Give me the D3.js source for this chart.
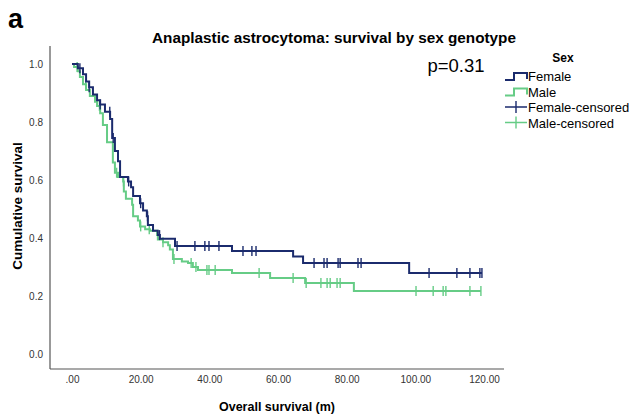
<!DOCTYPE html>
<html>
<head>
<meta charset="utf-8">
<script src="https://cdn.jsdelivr.net/npm/d3@7"></script>
<style>
  body { margin: 0; background: white; }
  text { font-family: "Liberation Sans", Arial, sans-serif; }
</style>
</head>
<body>
<div id="chart"></div>
<script>
// step points: time (months) and survival after the drop
const femaleTimes = [0, 1.7, 3.2, 4.1, 5.0, 6.1, 7.3, 8.2, 9.6, 11.1, 11.7, 12.5, 13.4, 14.0, 16.3, 17.2, 17.8, 19.8, 20.7, 21.8, 22.1, 23.6, 25.0, 25.6, 30.0, 46.6, 64.4, 67.3, 98.2]
const femaleSurv = [1.0, 0.985, 0.965, 0.94, 0.92, 0.895, 0.875, 0.86, 0.835, 0.81, 0.745, 0.70, 0.665, 0.61, 0.595, 0.575, 0.545, 0.52, 0.495, 0.475, 0.445, 0.425, 0.41, 0.397, 0.372, 0.355, 0.336, 0.314, 0.279]
const femaleCensored = [2.3, 5.0, 8.2, 11.0, 12.0, 16.5, 20.0, 22.0, 25.5, 30.6, 35.8, 38.7, 39.9, 42.8, 49.8, 52.4, 53.6, 70.5, 73.4, 74.3, 77.5, 78.1, 83.3, 84.2, 104.0, 112.1, 115.9, 118.8, 119.4]

const maleTimes = [0, 0.6, 1.7, 2.3, 3.2, 4.1, 5.2, 6.7, 7.3, 8.2, 9.0, 10.2, 11.9, 12.5, 13.4, 14.9, 15.1, 15.7, 17.5, 17.8, 19.2, 19.8, 21.3, 22.7, 24.8, 25.0, 26.5, 28.0, 28.5, 29.4, 32.0, 33.8, 35.2, 36.7, 46.6, 57.7, 67.9, 82.1]
const maleSurv = [1.0, 0.99, 0.975, 0.955, 0.93, 0.91, 0.89, 0.87, 0.855, 0.83, 0.79, 0.73, 0.66, 0.625, 0.61, 0.595, 0.56, 0.535, 0.515, 0.475, 0.46, 0.44, 0.43, 0.425, 0.41, 0.395, 0.385, 0.375, 0.36, 0.328, 0.319, 0.314, 0.300, 0.290, 0.279, 0.262, 0.245, 0.217]
const maleCensored = [1.5, 4.0, 8.0, 13.0, 15.0, 20.0, 22.5, 26.5, 29.7, 34.7, 36.1, 39.3, 39.9, 41.7, 54.5, 64.4, 68.2, 72.5, 74.3, 75.2, 77.2, 78.1, 100.2, 105.2, 108.1, 108.9, 115.9, 119.1]

const xTicks = [0, 20, 40, 60, 80, 100, 120]
const yTicks = [0, 0.2, 0.4, 0.6, 0.8, 1.0]

const navy = '#1b2b6d'
const green = '#66cc86'

const width = 632
const height = 417

const svg = d3.select('#chart').append('svg')
  .attr('width', width)
  .attr('height', height)

const xScale = d3.scaleLinear().domain([0, 120]).range([72, 484])
const yScale = d3.scaleLinear().domain([0, 1]).range([354, 64])

// axis frame (left + bottom only)
svg.append('line')
  .attr('x1', 50).attr('x2', 50).attr('y1', 46).attr('y2', 369)
  .attr('stroke', '#555').attr('stroke-width', 1.2)
svg.append('line')
  .attr('x1', 50).attr('x2', 504).attr('y1', 369).attr('y2', 369)
  .attr('stroke', '#555').attr('stroke-width', 1.2)

const xAxis = svg.append('g')
  .attr('transform', 'translate(0,369)')
  .call(d3.axisBottom(xScale).tickValues(xTicks).tickSize(0).tickPadding(7)
    .tickFormat(d => d === 0 ? '.00' : d.toFixed(2)))
xAxis.select('.domain').remove()
xAxis.selectAll('text')
  .attr('font-size', 10).attr('fill', '#333')
  .attr('font-family', '"Liberation Sans", Arial, sans-serif')

const yAxis = svg.append('g')
  .attr('transform', 'translate(50,0)')
  .call(d3.axisLeft(yScale).tickValues(yTicks).tickSize(0).tickPadding(7)
    .tickFormat(d3.format('.1f')))
yAxis.select('.domain').remove()
yAxis.selectAll('text')
  .attr('font-size', 10).attr('fill', '#333')
  .attr('font-family', '"Liberation Sans", Arial, sans-serif')

function survAt(times, surv, t) {
  let s = surv[0]
  for (let i = 0; i < times.length; i++) {
    if (times[i] <= t) s = surv[i]
  }
  return s
}

const stepLine = d3.line()
  .x(d => xScale(d[0]))
  .y(d => yScale(d[1]))
  .curve(d3.curveStepAfter)

function drawSeries(times, surv, censored, color) {
  const pts = times.map((t, i) => [t, surv[i]])
  const end = d3.max(censored)
  pts.push([end, surv[surv.length - 1]])
  svg.append('path')
    .datum(pts)
    .attr('d', stepLine)
    .attr('fill', 'none')
    .attr('stroke', color)
    .attr('stroke-width', 2)

  svg.append('g').selectAll('line')
    .data(censored)
    .join('line')
    .attr('x1', d => xScale(d))
    .attr('x2', d => xScale(d))
    .attr('y1', d => yScale(survAt(times, surv, d)) - 5)
    .attr('y2', d => yScale(survAt(times, surv, d)) + 5)
    .attr('stroke', color)
    .attr('stroke-width', 1.4)
}

drawSeries(maleTimes, maleSurv, maleCensored, green)
drawSeries(femaleTimes, femaleSurv, femaleCensored, navy)

// texts
svg.append('text')
  .attr('x', 8).attr('y', 28)
  .attr('font-size', 27).attr('font-weight', 'bold')
  .text('a')

svg.append('text')
  .attr('x', 334).attr('y', 43)
  .attr('text-anchor', 'middle')
  .attr('font-size', 15.3).attr('font-weight', 'bold')
  .text('Anaplastic astrocytoma: survival by sex genotype')

svg.append('text')
  .attr('x', 456).attr('y', 72)
  .attr('text-anchor', 'middle')
  .attr('font-size', 18.5)
  .text('p=0.31')

svg.append('text')
  .attr('x', 277).attr('y', 411)
  .attr('text-anchor', 'middle')
  .attr('font-size', 12.5).attr('font-weight', 'bold')
  .text('Overall survival (m)')

svg.append('text')
  .attr('transform', 'translate(22,206) rotate(-90)')
  .attr('text-anchor', 'middle')
  .attr('font-size', 13.5).attr('font-weight', 'bold')
  .text('Cumulative survival')

// legend
const legend = svg.append('g')
legend.append('text')
  .attr('x', 563).attr('y', 62)
  .attr('text-anchor', 'middle')
  .attr('font-size', 12).attr('font-weight', 'bold')
  .text('Sex')

const legendItems = [
  { label: 'Female', color: navy, type: 'step' },
  { label: 'Male', color: green, type: 'step' },
  { label: 'Female-censored', color: navy, type: 'cross' },
  { label: 'Male-censored', color: green, type: 'cross' },
]

legendItems.forEach((item, i) => {
  const y = 76 + i * 15.5
  if (item.type === 'step') {
    legend.append('path')
      .attr('d', `M505,${y + 4} L514,${y + 4} L514,${y - 3} L527,${y - 3} L527,${y + 3}`)
      .attr('fill', 'none')
      .attr('stroke', item.color)
      .attr('stroke-width', 2)
  } else {
    legend.append('path')
      .attr('d', `M505,${y} L527,${y} M516,${y - 6} L516,${y + 6}`)
      .attr('fill', 'none')
      .attr('stroke', item.color)
      .attr('stroke-width', 1.4)
  }
  legend.append('text')
    .attr('x', 528).attr('y', y + 5)
    .attr('font-size', 13)
    .text(item.label)
})
</script>
</body>
</html>
